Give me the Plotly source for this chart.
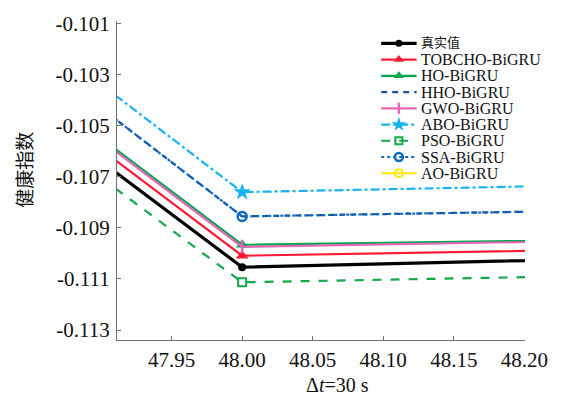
import plotly.graph_objects as go

# ---- data -------------------------------------------------------------
t = [47.9, 48.0, 48.3]

series_names = ["真实值", "TOBCHO-BiGRU", "HO-BiGRU", "HHO-BiGRU", "GWO-BiGRU",
                "ABO-BiGRU", "PSO-BiGRU", "SSA-BiGRU", "AO-BiGRU"]

actual = [-0.10639, -0.11054, -0.11015]
tobcho = [-0.10593, -0.11009, -0.10981]
ho = [-0.10548, -0.10966, -0.10944]
hho = [-0.10431, -0.10855, -0.10828]
gwo = [-0.10557, -0.10974, -0.10946]
abo = [-0.10338, -0.10760, -0.10727]
pso = [-0.10704, -0.11113, -0.11083]
ssa = [-0.10431, -0.10855, -0.10828]
ao = [-0.11390, -0.11700, -0.11660]

y_ticks = [-0.101, -0.103, -0.105, -0.107, -0.109, -0.111, -0.113]
y_tick_text = ["-0.101", "-0.103", "-0.105", "-0.107", "-0.109", "-0.111", "-0.113"]
x_ticks = [47.95, 48.00, 48.05, 48.10, 48.15, 48.20]
x_tick_text = ["47.95", "48.00", "48.05", "48.10", "48.15", "48.20"]

values = [actual, tobcho, ho, hho, gwo, abo, pso, ssa, ao]

# ---- styles -------------------------------------------------------------
styles = [
    dict(color="#000000", width=3.2, dash="solid", symbol="circle", size=8, mlw=0),
    dict(color="#ff1a35", width=2.2, dash="solid", symbol="triangle-up", size=11, mlw=0),
    dict(color="#00a84f", width=2.2, dash="solid", symbol="triangle-up", size=11, mlw=0),
    dict(color="#1e4f9e", width=2.2, dash="6px,5px", symbol=None, size=0, mlw=0),
    dict(color="#e466b4", width=2.2, dash="solid", symbol="line-ns", size=9, mlw=2.5),
    dict(color="#16b3ee", width=2.2, dash="dashdot", symbol="star", size=13, mlw=0),
    dict(color="#14a84a", width=2.2, dash="dash", symbol="square-open", size=8, mlw=2),
    dict(color="#0b6cc0", width=2.2, dash="dot", symbol="circle-open", size=9, mlw=2.5),
    dict(color="#ffe800", width=2.2, dash="solid", symbol="circle-open", size=9, mlw=2),
]
# legend keys use slightly smaller markers
key_sizes = [7, 9, 9, 0, 8, 11, 7, 8, 8]

W, H = 561, 399
L, R, T, B = 117, 35.5, 18, 59
PW, PH = W - L - R, H - T - B

SERIF = "Liberation Serif"
CJK = "Noto Sans CJK SC"

fig = go.Figure()

for name, vals, st in zip(series_names, values, styles):
    marker = dict(color=st["color"], size=st["size"],
                  line=dict(color=st["color"], width=st["mlw"]))
    if st["symbol"]:
        marker["symbol"] = st["symbol"]
    fig.add_trace(go.Scatter(
        x=t, y=vals, name=name,
        mode="lines+markers" if st["symbol"] else "lines",
        line=dict(color=st["color"], width=st["width"], dash=st["dash"]),
        marker=marker, showlegend=False,
    ))

# ---- legend built on a pixel-scaled overlay axis -----------------------
key_x0, key_x1, text_x = 381.5, 417, 420
row0, row_step = 40.5, 16.4
for i, (name, st) in enumerate(zip(series_names, styles)):
    ry = row0 + i * row_step
    fig.add_trace(go.Scatter(
        x=[key_x0, key_x1], y=[ry, ry], mode="lines", xaxis="x2", yaxis="y2",
        line=dict(color=st["color"], width=st["width"], dash=st["dash"]),
        showlegend=False, hoverinfo="skip",
    ))
    if st["symbol"]:
        fig.add_trace(go.Scatter(
            x=[(key_x0 + key_x1) / 2], y=[ry], mode="markers", xaxis="x2", yaxis="y2",
            marker=dict(color=st["color"], size=key_sizes[i], symbol=st["symbol"],
                        line=dict(color=st["color"], width=st["mlw"])),
            showlegend=False, hoverinfo="skip",
        ))
    fig.add_annotation(
        x=text_x, y=ry - (1.5 if i == 0 else 0), xref="x2", yref="y2", text=name,
        showarrow=False, xanchor="left", yanchor="middle", borderpad=0,
        font=dict(family=CJK if i == 0 else SERIF, size=13 if i == 0 else 16,
                  color="#111"),
    )


def px_to_paper(px, py):
    return (px - L) / PW, 1 - (py - T) / PH


# axis titles
ax_, ay_ = px_to_paper(338, 385)
fig.add_annotation(x=ax_, y=ay_, xref="paper", yref="paper", showarrow=False,
                   text="Δ<i>t</i>=30 s", font=dict(family=SERIF, size=20, color="#111"),
                   xanchor="center", yanchor="middle", borderpad=0)
bx_, by_ = px_to_paper(23, 168)
fig.add_annotation(x=bx_, y=by_, xref="paper", yref="paper", showarrow=False,
                   text="健康指数", textangle=-90,
                   font=dict(family=CJK, size=19, color="#111"),
                   xanchor="center", yanchor="middle")

axis_common = dict(showgrid=False, zeroline=False, showline=True,
                   linecolor="#707070", linewidth=1.2, ticks="inside",
                   ticklen=4, tickcolor="#707070", tickwidth=1.2,
                   tickfont=dict(family=SERIF, size=21, color="#111"))

fig.update_layout(
    width=W, height=H,
    margin=dict(l=L, r=R, t=T, b=B),
    paper_bgcolor="white", plot_bgcolor="white",
    showlegend=False,
    xaxis=dict(range=[47.9113, 48.2005], tickvals=x_ticks, ticktext=x_tick_text,
               ticklabelstandoff=1, **axis_common),
    yaxis=dict(range=[-0.11339, -0.10090], tickvals=y_ticks, ticktext=y_tick_text,
               ticklabelstandoff=2, **axis_common),
    xaxis2=dict(overlaying="x", range=[L, W - R], visible=False),
    yaxis2=dict(overlaying="y", range=[H - B, T], visible=False),
)

fig.write_html("out.html")
